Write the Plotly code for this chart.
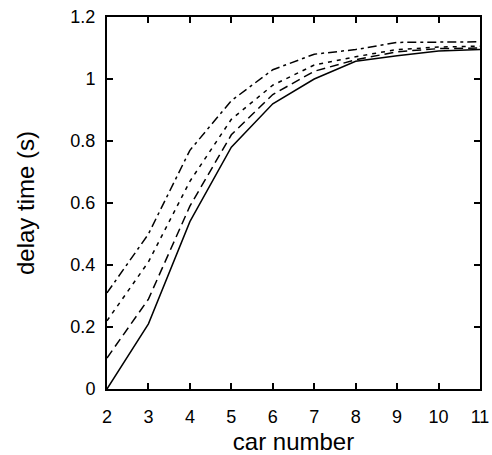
import plotly.graph_objects as go

car = [2, 3, 4, 5, 6, 7, 8, 9, 10, 11]
solid = [0.0, 0.21, 0.54, 0.78, 0.92, 1.0, 1.057, 1.075, 1.09, 1.095]
dashed = [0.10, 0.29, 0.59, 0.82, 0.95, 1.025, 1.062, 1.088, 1.098, 1.10]
dotted = [0.22, 0.41, 0.67, 0.87, 0.98, 1.045, 1.072, 1.095, 1.103, 1.106]
dashdot = [0.31, 0.50, 0.77, 0.93, 1.03, 1.08, 1.095, 1.118, 1.119, 1.12]

series = [
    (solid, "solid"),
    (dashed, "9px,5px"),
    (dotted, "4px,5px"),
    (dashdot, "9px,4px,3px,4px"),
]

FONT = "Liberation Sans, Arial, sans-serif"

fig = go.Figure()
for ys, dash in series:
    fig.add_trace(go.Scatter(x=car, y=ys, mode="lines",
                             line=dict(color="black", width=1.5, dash=dash),
                             showlegend=False))

axis_common = dict(
    showgrid=False, zeroline=False, showline=True, linecolor="black", linewidth=2,
    mirror="ticks", ticks="inside", ticklen=6, tickwidth=1.5, tickcolor="black",
    tickfont=dict(family=FONT, size=18, color="black"), automargin=False,
)
fig.update_xaxes(range=[2, 11], tickvals=car, ticktext=[str(c) for c in car],
                 ticklabelstandoff=10,
                 title=dict(text="car number", font=dict(family=FONT, size=24, color="black"), standoff=10),
                 **axis_common)
fig.update_yaxes(range=[0, 1.2], tickvals=[0, 0.2, 0.4, 0.6, 0.8, 1.0, 1.2],
                 ticktext=["0", "0.2", "0.4", "0.6", "0.8", "1", "1.2"],
                 ticklabelstandoff=6,
                 title=dict(text="delay time (s)", font=dict(family=FONT, size=24, color="black"), standoff=29),
                 **axis_common)
fig.update_layout(width=492, height=455, margin=dict(l=107, r=12, t=17, b=66),
                  plot_bgcolor="white", paper_bgcolor="white")
fig.write_html("out.html")
